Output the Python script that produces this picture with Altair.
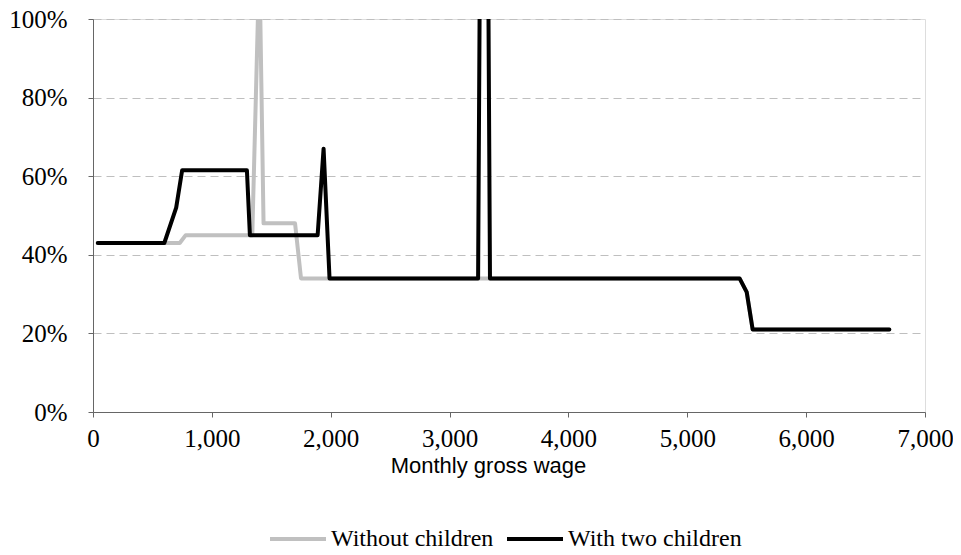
import altair as alt
import pandas as pd

# Without children (grey)
wage_without = [40, 730, 780, 1340, 1400, 1435, 1700, 1750, 5440, 5500, 5550, 6700]
rate_without = [0.43, 0.43, 0.45, 0.45, 1.15, 0.48, 0.48, 0.34, 0.34, 0.305, 0.21, 0.21]

# With two children (black)
wage_with = [40, 600, 700, 750, 1295, 1320, 1890, 1940, 1990, 3240, 3290, 3340, 5440, 5500, 5550, 6700]
rate_with = [0.43, 0.43, 0.52, 0.615, 0.615, 0.45, 0.45, 0.67, 0.34, 0.34, 3.0, 0.34, 0.34, 0.305, 0.21, 0.21]

series_names = ["Without children", "With two children"]
series_colors = ["#c0c0c0", "#000000"]

x_ticks = [0, 1000, 2000, 3000, 4000, 5000, 6000, 7000]
y_ticks = [0, 0.2, 0.4, 0.6, 0.8, 1.0]

df_without = pd.DataFrame({"wage": wage_without, "rate": rate_without, "series": series_names[0]})
df_with = pd.DataFrame({"wage": wage_with, "rate": rate_with, "series": series_names[1]})

SERIF = "Liberation Serif"
SANS = "Liberation Sans"

x_enc = alt.X(
    "wage:Q",
    scale=alt.Scale(domain=[0, 7000], nice=False),
    axis=alt.Axis(
        values=x_ticks, format=",d", title="Monthly gross wage",
        labelFont=SERIF, labelFontSize=25, labelColor="#000000",
        labelFlush=False, labelOverlap=False,
        titleFont=SANS, titleFontSize=22, titleFontWeight="normal", titleColor="#000000",
        titleX=395, titleAlign="center",
        tickSize=5, labelPadding=9, titlePadding=4,
        domainColor="#666666", tickColor="#666666", grid=False,
    ),
)
y_enc = alt.Y(
    "rate:Q",
    scale=alt.Scale(domain=[0, 1], nice=False, clamp=False),
    axis=alt.Axis(
        values=y_ticks, format=".0%", title=None,
        labelFont=SERIF, labelFontSize=25, labelColor="#000000",
        labelFlush=False, labelOverlap=False,
        tickSize=5, labelPadding=21,
        domainColor="#666666", tickColor="#666666",
        grid=True, gridColor="#bfbfbf", gridDash=[8, 5], gridWidth=1,
    ),
)
color_enc = alt.Color(
    "series:N",
    scale=alt.Scale(domain=series_names, range=series_colors),
    legend=alt.Legend(
        title=None, orient="none", direction="horizontal",
        legendX=175, legendY=507,
        symbolType="stroke", symbolStrokeWidth=4, symbolSize=3136,
        clipHeight=26,
        labelFont=SERIF, labelFontSize=24, labelColor="#000000", labelLimit=0,
        labelOffset=3, columnPadding=11,
    ),
)

line_kw = dict(strokeWidth=4, strokeCap="round", strokeJoin="round", clip=True)

grey = alt.Chart(df_without).mark_line(**line_kw).encode(x=x_enc, y=y_enc, color=color_enc)
black = alt.Chart(df_with).mark_line(**line_kw).encode(x=x_enc, y=y_enc, color=color_enc)

chart = alt.layer(grey, black).properties(
    width=832, height=393,
    autosize=alt.AutoSizeParams(type="none"),
    padding={"left": 85, "top": 11, "right": 28, "bottom": 135},
).configure_view(stroke=None).configure(background="white")

chart.save("out.html", embed_options={"renderer": "svg", "actions": False})
